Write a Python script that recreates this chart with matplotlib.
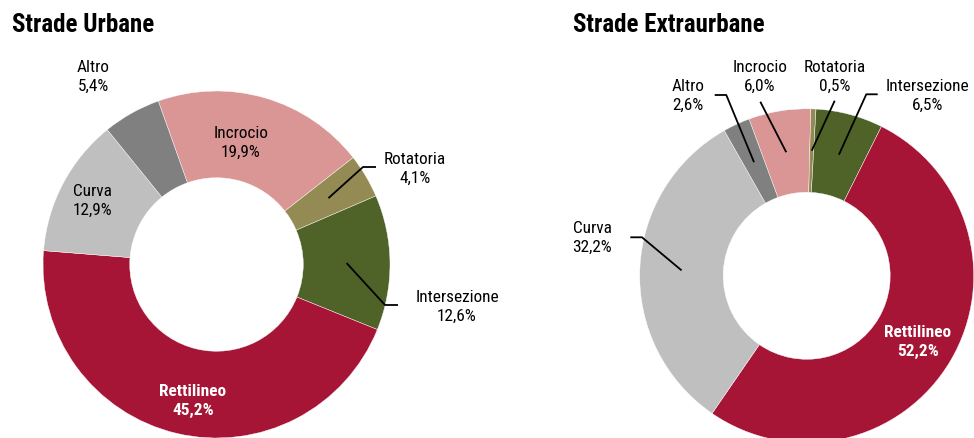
import numpy as np
import matplotlib
matplotlib.use("Agg")
import matplotlib.pyplot as plt

# ---- data ----
categories = ["Incrocio", "Rotatoria", "Intersezione", "Rettilineo", "Curva", "Altro"]
urbane = [19.9, 4.1, 12.6, 45.2, 12.9, 5.4]
extraurbane = [6.0, 0.5, 6.5, 52.2, 32.2, 2.6]
titles = ["Strade Urbane", "Strade Extraurbane"]

# ---- style ----
colors = ["#D99694", "#948A54", "#4F6228", "#A61535", "#BFBFBF", "#808080"]
FONT = ["Roboto Condensed", "Liberation Sans", "DejaVu Sans"]
W, H = 974, 438


def Y(p):
    return H - p


def fmt(v):
    return f"{v:.1f}%".replace(".", ",")


fig = plt.figure(figsize=(W / 100, H / 100), dpi=100)
ax = fig.add_axes([0, 0, 1, 1])

# layout: center (px), radius (px), start angle, and label layout per category
charts = [
    dict(values=urbane, center=(216.5, 264.5), R=173.5, start=109.6, title_x=12,
         labels={
             "Incrocio": dict(pos=(241, 143)),
             "Rotatoria": dict(pos=(415, 169), line=[(363, 167), (376, 167)]),
             "Intersezione": dict(pos=(457, 307), line=[(385, 305), (398, 305)]),
             "Rettilineo": dict(pos=(193, 401), inside=True),
             "Curva": dict(pos=(92, 201)),
             "Altro": dict(pos=(93, 77)),
         }),
    dict(values=extraurbane, center=(806.7, 275.8), R=167, start=110.2, title_x=573,
         labels={
             "Incrocio": dict(pos=(760, 76.5), line=[(760.3, 101.7)]),
             "Rotatoria": dict(pos=(834.7, 76.5), line=[(834.7, 100.7)]),
             "Intersezione": dict(pos=(927.7, 96), line=[(866.3, 94.3), (877.7, 94.3)]),
             "Rettilineo": dict(pos=(918, 342), inside=True),
             "Curva": dict(pos=(592.3, 237.5), line=[(642, 237.3), (630.3, 237.3)]),
             "Altro": dict(pos=(688, 96), line=[(726.3, 95), (714.7, 95)]),
         }),
]

for ch, title in zip(charts, titles):
    cx, cy = ch["center"][0], Y(ch["center"][1])
    R = ch["R"]
    wedges, _ = ax.pie(ch["values"], colors=colors, startangle=ch["start"],
                       counterclock=False, radius=R, center=(cx, cy),
                       wedgeprops=dict(width=R * 0.5, edgecolor="white", linewidth=0.3))
    for w, cat, val in zip(wedges, categories, ch["values"]):
        lab = ch["labels"][cat]
        lx, ly = lab["pos"]
        inside = lab.get("inside", False)
        ax.text(lx, Y(ly), f"{cat}\n{fmt(val)}", ha="center", va="center",
                fontsize=12.4, family=FONT, color="white" if inside else "black",
                fontweight="bold" if inside else "normal", linespacing=1.32)
        if "line" in lab:
            mid = np.deg2rad((w.theta1 + w.theta2) / 2)
            sx = cx + 0.75 * R * np.cos(mid)
            sy = cy + 0.75 * R * np.sin(mid)
            xs = [sx] + [p[0] for p in lab["line"]]
            ys = [sy] + [Y(p[1]) for p in lab["line"]]
            ax.plot(xs, ys, color="black", lw=1.3, solid_capstyle="butt")
    fig.text(ch["title_x"] / W, 1 - 31.7 / H, title, ha="left", va="baseline",
             fontsize=18, fontweight="bold", family=FONT)

ax.set_xlim(0, W)
ax.set_ylim(0, H)
ax.set_aspect("equal")
ax.axis("off")

fig.savefig("out.png", dpi=100)
